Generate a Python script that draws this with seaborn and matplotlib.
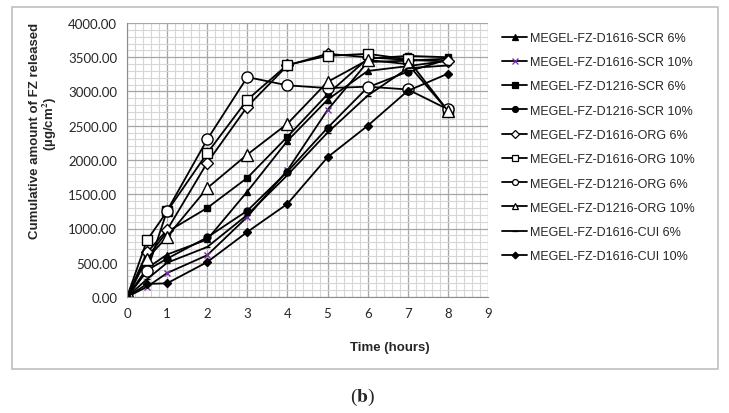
import pandas as pd
import matplotlib.pyplot as plt
import seaborn as sns
from matplotlib.lines import Line2D
from matplotlib.patches import Rectangle
from matplotlib.ticker import MultipleLocator, FormatStrFormatter

# Data
hours = [0, 0.5, 1, 2, 3, 4, 5, 6, 7, 8]

scr_d1616_6 = [0, 420, 620, 840, 1540, 2280, 2880, 3300, 3370, 3450]
scr_d1616_10 = [0, 150, 350, 610, 1170, 1850, 2730, 3430, 3450, 3480]
scr_d1216_6 = [0, 580, 950, 1300, 1740, 2340, 2960, 3480, 3520, 3500]
scr_d1216_10 = [0, 390, 560, 870, 1260, 1830, 2470, 3060, 3290, 3470]
org_d1616_6 = [0, 650, 980, 1960, 2780, 3380, 3550, 3500, 3460, 3440]
org_d1616_10 = [0, 830, 1250, 2100, 2880, 3390, 3520, 3550, 3470, 2720]
org_d1216_6 = [0, 380, 1260, 2300, 3210, 3090, 3050, 3070, 3030, 2740]
org_d1216_10 = [0, 560, 880, 1590, 2080, 2530, 3140, 3460, 3400, 2720]
cui_d1616_6 = [0, 260, 500, 730, 1200, 1780, 2400, 2940, 3340, 3380]
cui_d1616_10 = [0, 190, 200, 510, 950, 1360, 2040, 2500, 3010, 3260]

labels = ["MEGEL-FZ-D1616-SCR 6%", "MEGEL-FZ-D1616-SCR 10%",
          "MEGEL-FZ-D1216-SCR 6%", "MEGEL-FZ-D1216-SCR 10%",
          "MEGEL-FZ-D1616-ORG 6%", "MEGEL-FZ-D1616-ORG 10%",
          "MEGEL-FZ-D1216-ORG 6%", "MEGEL-FZ-D1216-ORG 10%",
          "MEGEL-FZ-D1616-CUI 6%", "MEGEL-FZ-D1616-CUI 10%"]
series = [scr_d1616_6, scr_d1616_10, scr_d1216_6, scr_d1216_10,
          org_d1616_6, org_d1616_10, org_d1216_6, org_d1216_10,
          cui_d1616_6, cui_d1616_10]

# marker, size, face, edge
styles = [("^", 5, "black", "black"),
          ("x", 5, "#7030A0", "#7030A0"),
          ("s", 5, "black", "black"),
          ("o", 5, "black", "black"),
          ("D", 6, "white", "black"),
          ("s", 6.5, "white", "black"),
          ("o", 8, "white", "black"),
          ("^", 9, "white", "black"),
          ("_", 5, "black", "black"),
          ("D", 4, "black", "black")]

sns.set_style("white")
plt.rcParams["font.family"] = ["Liberation Sans", "DejaVu Sans"]
plt.rcParams["mathtext.fontset"] = "stix"

fig = plt.figure(figsize=(7.29, 4.14), dpi=100)
ax = fig.add_axes([127 / 729, 1 - 298 / 414, 361 / 729, 274 / 414])

handles = []
for lab, vals, (m, ms, fc, ec) in zip(labels, series, styles):
    df = pd.DataFrame({"hours": hours, "value": vals})
    sns.lineplot(data=df, x="hours", y="value", ax=ax, color="black", lw=1.3,
                 marker=m, markersize=ms, markerfacecolor=fc, markeredgecolor=ec,
                 markeredgewidth=1.0, legend=False)
    handles.append(Line2D([], [], color="black", lw=1.3, marker=m,
                          markersize=min(ms, 5) * 0.85, markerfacecolor=fc,
                          markeredgecolor=ec, markeredgewidth=0.9))

ax.set_xlim(0, 9)
ax.set_ylim(0, 4000)
ax.xaxis.set_major_locator(MultipleLocator(1))
ax.xaxis.set_minor_locator(MultipleLocator(0.2))
ax.yaxis.set_major_locator(MultipleLocator(500))
ax.yaxis.set_minor_locator(MultipleLocator(100))
ax.yaxis.set_major_formatter(FormatStrFormatter("%.2f"))
ax.grid(which="major", color="#A6A6A6", lw=0.9)
ax.grid(which="minor", color="#D6D6D6", lw=0.8)
ax.set_axisbelow(True)
for s in ["top", "right"]:
    ax.spines[s].set_visible(False)
for s in ["left", "bottom"]:
    ax.spines[s].set_color("#8C8C8C")
ax.tick_params(which="major", direction="out", length=4, color="#8C8C8C",
               labelsize=9.5, pad=3)
ax.tick_params(which="minor", length=0)
for t in ax.get_xticklabels() + ax.get_yticklabels():
    t.set_family("Lato")
ax.set_xlabel("")
ax.set_ylabel("")

fig.text(35 / 729, 1 - 131 / 414, "Cumulative amount of FZ released",
         rotation=90, ha="center", va="center", fontsize=9.5, fontweight="bold")
fig.text(50 / 729, 1 - 124 / 414, "(µg/cm$^{\\mathbf{2}}$)",
         rotation=90, ha="center", va="center", fontsize=9.5, fontweight="bold")
fig.text(390 / 729, 1 - 348 / 414, "Time (hours)", ha="center", va="center",
         fontsize=9.5, fontweight="bold")

fig.legend(handles, labels, loc="upper left", bbox_to_anchor=(502 / 729, 1 - 33 / 414),
           frameon=False, fontsize=9, handlelength=2.0, handletextpad=0.2,
           labelspacing=0.98, borderpad=0, borderaxespad=0)

fig.patches.append(Rectangle((12 / 729, 1 - 370 / 414), 706 / 729, 362 / 414,
                             transform=fig.transFigure, fill=False,
                             edgecolor="#BFBFBF", lw=1.2))
fig.text(363 / 729, 1 - 397 / 414, r"($\mathbf{b}$)", ha="center", va="center",
         fontsize=14, family="Liberation Serif")

plt.savefig("out.png", dpi=100)
plt.close()
